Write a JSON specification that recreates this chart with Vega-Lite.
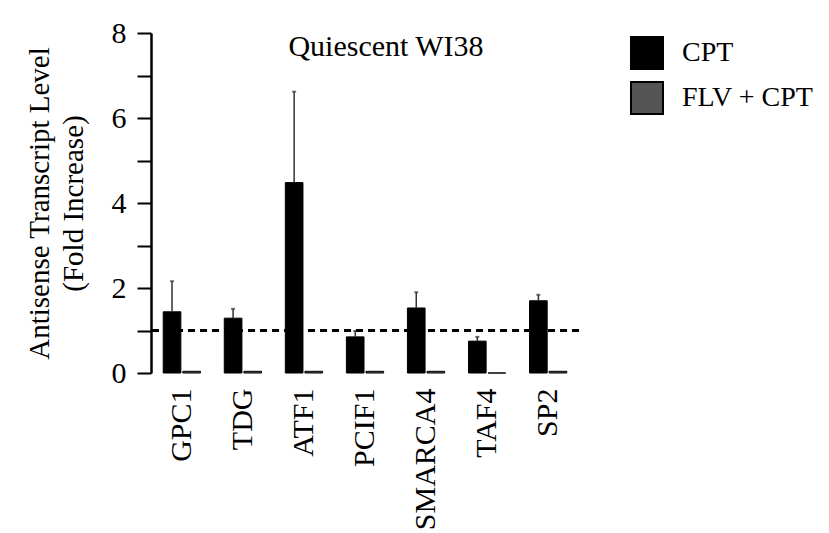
{
  "$schema": "https://vega.github.io/schema/vega-lite/v6.json",
  "width": 428,
  "height": 340,
  "padding": {"left": 25, "top": 18, "right": 5, "bottom": 5},
  "config": {
    "view": {"stroke": null},
    "font": "Liberation Serif"
  },
  "data": {
    "values": [
      {"gene": "GPC1", "group": "CPT", "value": 1.44, "upper": 2.16},
      {"gene": "GPC1", "group": "FLV + CPT", "value": 0.04},
      {"gene": "TDG", "group": "CPT", "value": 1.29, "upper": 1.51},
      {"gene": "TDG", "group": "FLV + CPT", "value": 0.04},
      {"gene": "ATF1", "group": "CPT", "value": 4.48, "upper": 6.62},
      {"gene": "ATF1", "group": "FLV + CPT", "value": 0.04},
      {"gene": "PCIF1", "group": "CPT", "value": 0.85, "upper": 0.99},
      {"gene": "PCIF1", "group": "FLV + CPT", "value": 0.04},
      {"gene": "SMARCA4", "group": "CPT", "value": 1.53, "upper": 1.9},
      {"gene": "SMARCA4", "group": "FLV + CPT", "value": 0.04},
      {"gene": "TAF4", "group": "CPT", "value": 0.75, "upper": 0.85},
      {"gene": "TAF4", "group": "FLV + CPT", "value": 0.0},
      {"gene": "SP2", "group": "CPT", "value": 1.7, "upper": 1.84},
      {"gene": "SP2", "group": "FLV + CPT", "value": 0.04}
    ]
  },
  "encoding": {
    "x": {
      "field": "gene", "type": "nominal", "sort": null,
      "scale": {"paddingInner": 0.39, "paddingOuter": 0.2},
      "axis": {"title": null, "labelAngle": -90, "labelFontSize": 30, "labelColor": "black", "labelFont": "Liberation Serif", "domain": false, "ticks": false, "labelPadding": 15, "labelAlign": "right", "labelBaseline": "middle"}
    },
    "xOffset": {"field": "group", "type": "nominal", "scale": {"paddingInner": 0.1}}
  },
  "layer": [
    {
      "mark": {"type": "bar", "stroke": "black", "strokeWidth": 1},
      "encoding": {
        "y": {
          "field": "value", "type": "quantitative",
          "scale": {"domain": [0, 8], "nice": false},
          "axis": {
            "title": ["Antisense Transcript Level", "(Fold Increase)"],
            "titleFontSize": 29, "titleFontWeight": "normal", "titleColor": "black", "titleFont": "Liberation Serif",
            "titleLineHeight": 34, "titlePadding": 23,
            "values": [0, 1, 2, 3, 4, 5, 6, 7, 8],
            "labelExpr": "datum.value % 2 == 0 ? datum.label : ''",
            "labelFontSize": 30, "labelColor": "black", "labelFont": "Liberation Serif", "labelPadding": 11,
            "tickSize": 14, "tickColor": "black", "tickWidth": 2,
            "domainColor": "black", "domainWidth": 2.5, "grid": false
          }
        },
        "fill": {
          "field": "group", "type": "nominal",
          "scale": {"domain": ["CPT", "FLV + CPT"], "range": ["#000000", "#555555"]},
          "legend": {
            "title": null, "orient": "none", "legendX": 479, "legendY": 3,
            "symbolType": "square", "symbolSize": 1024, "symbolStrokeColor": "black", "symbolStrokeWidth": 2,
            "labelFontSize": 28, "labelFont": "Liberation Serif", "labelColor": "black", "labelOffset": 18,
            "rowPadding": 5, "padding": 0
          }
        }
      }
    },
    {
      "transform": [{"filter": "datum.upper != null"}],
      "mark": {"type": "rule", "color": "#333333", "strokeWidth": 1.5},
      "encoding": {
        "y": {"field": "value", "type": "quantitative"},
        "y2": {"field": "upper"}
      }
    },
    {
      "transform": [{"filter": "datum.upper != null"}],
      "mark": {"type": "tick", "color": "#333333", "thickness": 2, "size": 4, "orient": "horizontal"},
      "encoding": {
        "y": {"field": "upper", "type": "quantitative"}
      }
    },
    {
      "mark": {"type": "rule", "color": "black", "strokeWidth": 2.5, "strokeDash": [7, 5]},
      "encoding": {
        "x": null,
        "xOffset": null,
        "y": {"datum": 1}
      }
    },
    {
      "data": {"values": [{"label": "Quiescent WI38"}]},
      "mark": {"type": "text", "fontSize": 30, "font": "Liberation Serif", "color": "black", "baseline": "alphabetic", "align": "center", "dx": 21},
      "encoding": {
        "x": {"datum": "PCIF1"},
        "xOffset": null,
        "y": {"datum": 7.45},
        "text": {"field": "label"}
      }
    }
  ]
}
